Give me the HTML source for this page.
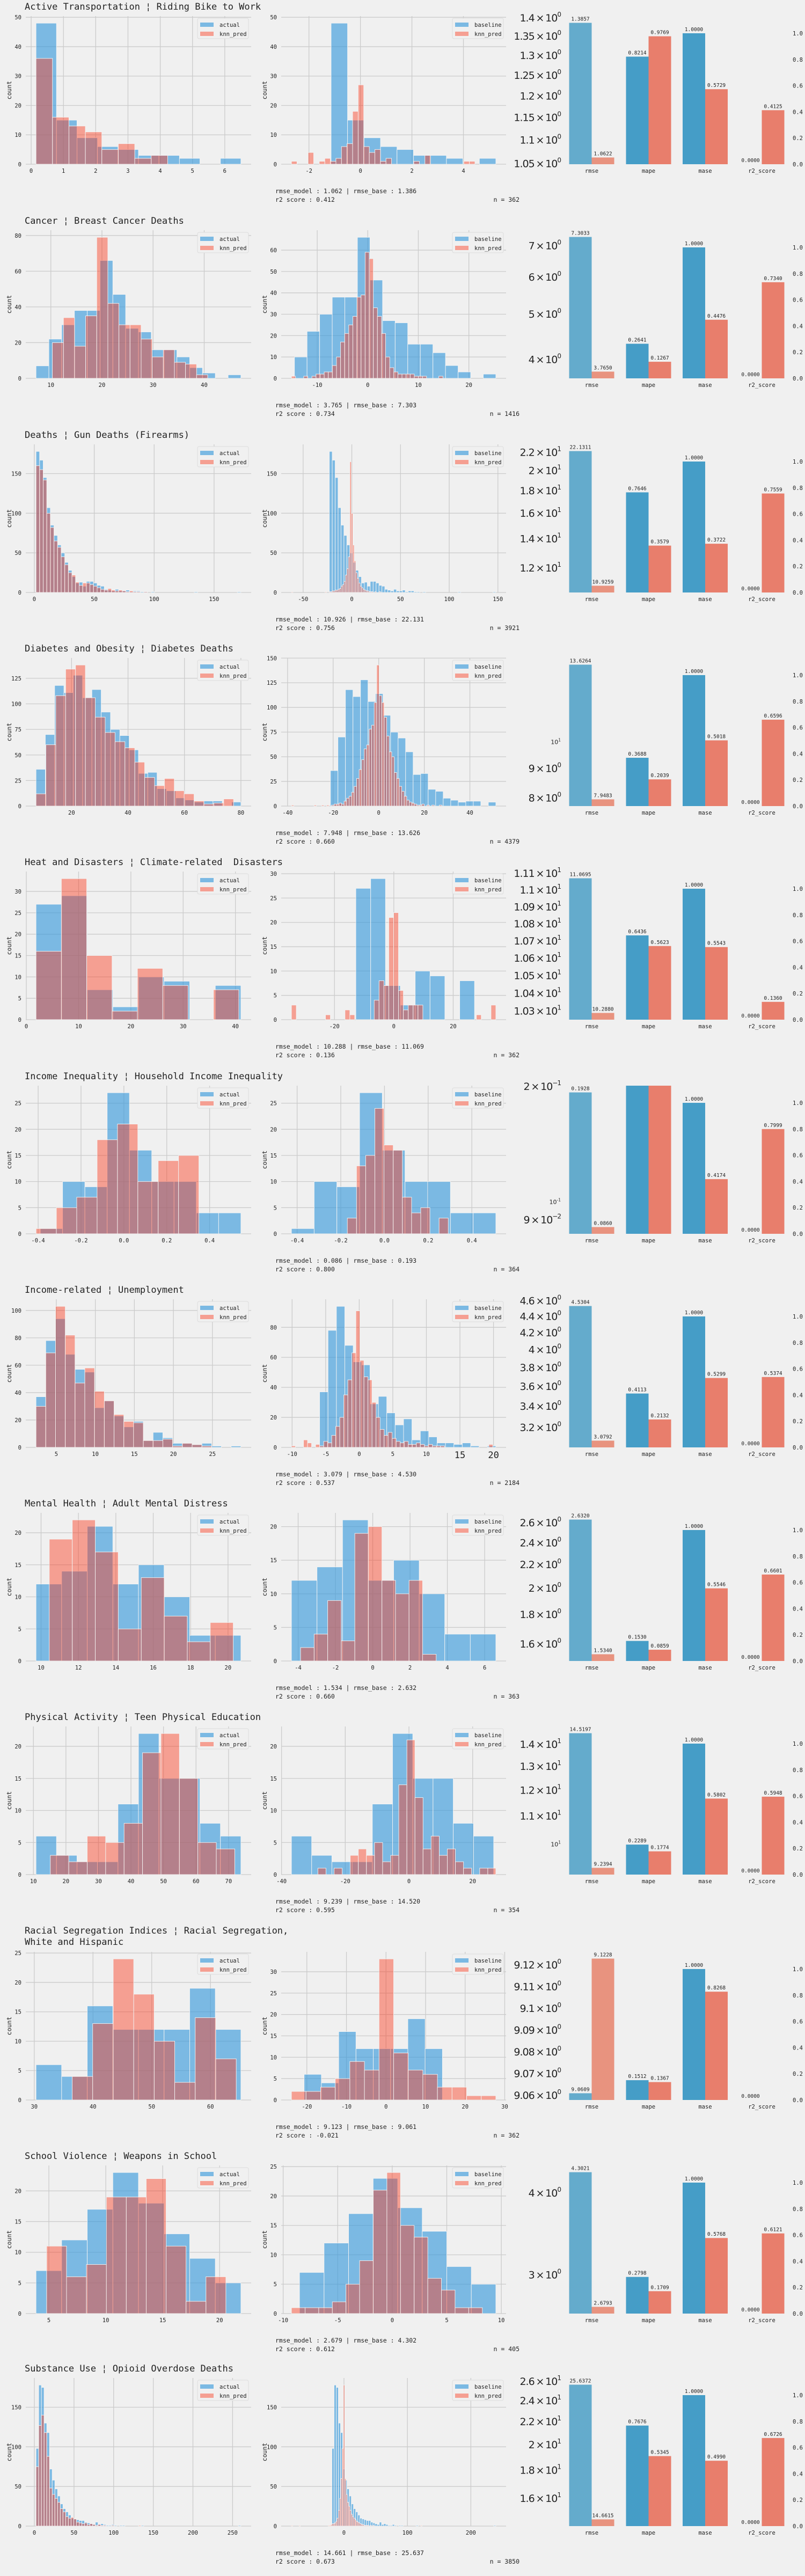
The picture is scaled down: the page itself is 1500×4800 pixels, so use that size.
<!DOCTYPE html>
<html><head><meta charset="utf-8"><title>KNN evaluation panels</title>
<style>
html,body{margin:0;padding:0;background:#f0f0f0;}
svg{display:block;}
text{fill:#222;}
</style></head>
<body>
<svg id="chart" xmlns="http://www.w3.org/2000/svg" width="1500" height="4800" viewBox="0 0 1500 4800">
<rect x="0" y="0" width="1500" height="4800" fill="#f0f0f0"/>
</svg>
<script>
// ---------------- DATA ----------------
const titles = [
 ["Active Transportation ¦ Riding Bike to Work"],
 ["Cancer ¦ Breast Cancer Deaths"],
 ["Deaths ¦ Gun Deaths (Firearms)"],
 ["Diabetes and Obesity ¦ Diabetes Deaths"],
 ["Heat and Disasters ¦ Climate-related \u00a0Disasters"],
 ["Income Inequality ¦ Household Income Inequality"],
 ["Income-related ¦ Unemployment"],
 ["Mental Health ¦ Adult Mental Distress"],
 ["Physical Activity ¦ Teen Physical Education"],
 ["Racial Segregation Indices ¦ Racial Segregation,","White and Hispanic"],
 ["School Violence ¦ Weapons in School"],
 ["Substance Use ¦ Opioid Overdose Deaths"]
];
const actualStart = [0.15,7.1,1.4,7.4,1.85,-0.39,2.4,9.73,10.8,30.3,3.87,2.1];
const actualWidth = [0.635,2.505,3,3.3,4.9,0.104,1.25,1.37,6.3,4.36,2.25,3.4];
const actualCounts = [
 [48,15,9,6,5,3,3,2,0,2],
 [7,22,30,38,38,66,47,28,26,16,16,12,6,3,0,2],
 [178,167,145,107,85,72,60,50,38,28,20,12,13,8,14,14,12,9,8,4,3,2,4,2,2,3,1,2,2,1,1,0,1,0,0,0,0,0,0,0,0,0,0,0,1,0,0,0,0,0,0,0,0,0,0,0,1],
 [36,70,118,111,128,106,114,92,75,69,55,32,33,17,15,8,6,4,5,5,0,4],
 [27,29,7,3,10,9,0,8],
 [1,10,9,27,16,10,10,4,4],
 [37,78,94,68,57,55,29,34,23,15,19,5,11,7,3,3,2,3,1,0,1],
 [12,14,21,12,15,10,4,4],
 [6,3,2,2,11,22,15,15,8,6],
 [6,4,16,12,12,12,19,12],
 [7,12,17,23,18,13,9,5],
 [98,178,175,130,118,72,58,47,38,28,22,18,14,10,9,8,7,7,5,4,3,2,5,2,3,2,1,1,2,1,0,1,1,0,0,0,0,0,0,1,0,0,0,0,0,0,0,0,0,0,0,0,0,0,0,0,0,0,0,0,0,0,0,0,0,0,0,0,0,0,0,0,0,0,0,1]
];
const predStart = [0.15,10.3,1.4,7.4,1.85,-0.41,2.4,10.44,15.2,36.46,4.8,2.1];
const predWidth = [0.51,2.17,3,3.5,4.85,0.095,1.25,1.23,5.67,3.49,1.75,3.4];
const predCounts = [
 [36,16,13,11,5,7,2,3],
 [20,34,18,35,79,42,30,30,22,12,16,9,8,2],
 [160,155,142,100,82,65,57,45,35,25,22,13,9,12,12,10,8,6,4,3,5,3,2,3,2,1,2,1,1,0,1],
 [12,60,108,134,138,106,87,72,63,57,43,28,20,27,15,12,5,2,3,7],
 [16,33,15,2,12,8,0,7],
 [1,5,7,18,21,10,14,15],
 [30,69,103,82,47,58,41,34,24,19,18,5,5,6,1,3,2,1],
 [19,22,17,5,13,7,3,6],
 [3,2,6,5,8,19,22,15,5,4],
 [4,13,24,18,10,3,14,7],
 [11,6,8,19,19,22,11,2,6],
 [75,127,140,118,88,48,40,35,30,22,18,12,10,11,9,5,4,3,4,2,3,2,1,2,1,1,0,0,1,0,0,0,0,0,0,0,0,0,1]
];
const baselineStart = [-1.14,-14.5,-23.1,-21.2,-12.8,-0.426,-5.9,-4.36,-36.9,-20.7,-8.5,-19];
const baselineWidth = [0.64,2.49,3,3.3,5.0,0.104,1.25,1.37,6.35,4.37,2.25,3.4];
const baselineCounts = [
 [48,15,9,6,5,3,3,2,0,2],
 [10,22,30,38,38,66,46,27,26,16,16,12,6,3,0,2],
 [178,167,145,107,85,72,60,50,38,28,20,12,13,8,14,14,12,9,8,4,3,2,4,2,2,3,1,2,2,1,1,0,1,0,0,0,0,0,0,0,0,0,0,0,1,0,0,0,0,0,0,0,0,0,0,0,1],
 [36,70,118,111,128,106,114,92,75,69,55,32,33,17,15,8,6,4,5,5,0,4],
 [27,29,7,3,10,9,0,8],
 [1,10,9,27,16,10,10,4,4],
 [37,78,94,68,57,55,29,34,23,15,19,5,11,7,3,3,2,3,1,0,1],
 [12,14,21,12,15,10,4,4],
 [6,3,2,2,11,22,15,15,8,6],
 [6,4,16,12,12,12,19,12],
 [7,12,17,23,18,14,8,5],
 [98,178,175,130,118,72,58,47,38,28,22,18,14,10,9,8,7,7,5,4,3,2,5,2,3,2,1,1,2,1,0,1,1,0,0,0,0,0,0,1,0,0,0,0,0,0,0,0,0,0,0,0,0,0,0,0,0,0,0,0,0,0,0,0,0,0,0,0,0,0,0,0,0,0,0,1]
];
const residStart = [-2.68,-15.1,-62,-38.3,-34.5,-0.17,-10.1,-3.87,-28.6,-23.9,-9.24,-82.8];
const residWidth = [0.216,0.81,1.5,1.1,1.64,0.042,0.6,0.727,2.54,3.69,1.25,2];
const residCounts = [
 [1,0,0,4,0,1,2,1,2,6,7,18,27,6,4,5,1,2,0,0,0,0,1,0,3,0,0,0,0,0,0,1,1],
 [1,0,0,1,0,1,2,2,3,3,6,10,17,21,25,29,38,39,59,56,33,29,21,10,5,3,2,2,2,2,1,1,1,0,0,0,1],
 [1,0,0,0,0,0,0,0,0,0,0,0,0,0,0,0,0,0,0,0,0,0,0,1,0,0,1,1,2,2,3,3,4,5,8,10,14,22,30,45,165,100,60,40,25,18,12,8,6,4,3,2,2,1,1,1,0,1,0,0,1],
 [1,0,0,0,0,0,0,0,0,1,0,0,1,0,1,0,1,2,2,3,2,5,8,10,14,20,28,37,47,58,62,78,82,105,143,112,105,90,71,55,50,34,28,20,15,10,6,4,3,2,1,1,2,0,1,0,1,0,0,1],
 [3,0,0,0,0,0,0,1,0,0,0,2,1,0,0,0,0,4,8,7,21,22,6,2,3,3,3,0,0,0,0,0,0,0,0,0,0,0,1,0,0,3],
 [3,13,15,24,17,16,7,4,5,0,3],
 [1,0,0,5,3,0,2,1,4,3,8,14,20,35,45,63,91,58,47,45,30,20,12,8,10,6,4,3,4,2,2,3,2,1,2,1,1,1,0,0,0,0,0,0,0,0,0,0,0,2],
 [2,4,9,3,19,20,12,10,12,1],
 [1,0,1,0,3,4,3,5,2,3,14,21,12,4,6,3,4,2,1,0,1,1],
 [2,2,3,5,9,7,33,11,7,6,3,3,1,1],
 [1,1,1,2,5,9,21,24,15,13,6,4,1,1],
 [1,0,0,0,0,0,1,0,0,0,0,0,0,0,0,0,0,0,0,0,0,0,0,0,0,0,0,0,0,1,1,2,3,3,4,6,10,20,35,60,98,178,60,40,30,25,20,15,12,10,8,6,5,4,3,2,2,1,1,1,1,0,1,0,1,0,0,0,0,0,0,0,0,0,0,0,0,0,0,0,0,0,0,0,0,0,0,0,0,0,0,0,0,0,0,0,0,0,0,0,0,0,1]
];
const leftXTicks = [[0,1,2,3,4,5,6],[10,20,30,40],[0,50,100,150],[20,40,60,80],[0,10,20,30,40],[-0.4,-0.2,0,0.2,0.4],[5,10,15,20,25],[10,12,14,16,18,20],[10,20,30,40,50,60,70],[30,40,50,60],[5,10,15,20],[0,50,100,150,200,250]];
const midXTicks = [[-2,0,2,4],[-10,0,10,20],[-50,0,50,100,150],[-40,-20,0,20,40],[-20,0,20],[-0.4,-0.2,0,0.2,0.4],[-10,-5,0,5,10,15,20],[-4,-2,0,2,4,6],[-40,-20,0,20],[-20,-10,0,10,20,30],[-10,-5,0,5,10],[0,100,200]];
const leftYStep = [10,20,50,25,5,5,20,5,5,5,5,50];
const midYStep = [10,10,50,25,5,5,20,5,5,5,5,50];
const rmseBase = [1.3857,7.3033,22.1311,13.6264,11.0695,0.1928,4.5304,2.6320,14.5197,9.0609,4.3021,25.6372];
const rmseModel = [1.0622,3.7650,10.9259,7.9483,10.2880,0.0860,3.0792,1.5340,9.2394,9.1228,2.6793,14.6615];
const mapeBase = [0.8214,0.2641,0.7646,0.3688,0.6436,2.0,0.4113,0.1530,0.2289,0.1512,0.2798,0.7676];
const mapeModel = [0.9769,0.1267,0.3579,0.2039,0.5623,2.0,0.2132,0.0859,0.1774,0.1367,0.1709,0.5345];
const maseBase = [1,1,1,1,1,1,1,1,1,1,1,1];
const maseModel = [0.5729,0.4476,0.3722,0.5018,0.5543,0.4174,0.5299,0.5546,0.5802,0.8268,0.5768,0.4990];
const r2Base = [0,0,0,0,0,0,0,0,0,0,0,0];
const r2Model = [0.4125,0.7340,0.7559,0.6596,0.1360,0.7999,0.5374,0.6601,0.5948,-0.0210,0.6121,0.6726];
const logTicks = [
 [1.05,1.1,1.15,1.2,1.25,1.3,1.35,1.4],
 [4,5,6,7],
 [12,14,16,18,20,22],
 [8,9,10],
 [10.3,10.4,10.5,10.6,10.7,10.8,10.9,11.0,11.1],
 [0.09,0.1,0.2],
 [3.2,3.4,3.6,3.8,4.0,4.2,4.4,4.6],
 [1.6,1.8,2.0,2.2,2.4,2.6],
 [10,11,12,13,14],
 [9.06,9.07,9.08,9.09,9.10,9.11,9.12],
 [3,4],
 [16,18,20,22,24,26]
];
const statsModel = ["1.062","3.765","10.926","7.948","10.288","0.086","3.079","1.534","9.239","9.123","2.679","14.661"];
const statsBase = ["1.386","7.303","22.131","13.626","11.069","0.193","4.530","2.632","14.520","9.061","4.302","25.637"];
const statsR2 = ["0.412","0.734","0.756","0.660","0.136","0.800","0.537","0.660","0.595","-0.021","0.612","0.673"];
const statsN = ["362","1416","3921","4379","362","364","2184","363","354","362","405","3850"];
const metricNames = ["rmse","mape","mase","r2_score"];

// ---------------- LAYOUT ----------------
const NS = "http://www.w3.org/2000/svg";
const svg = document.getElementById("chart");
const rowBottom = [306,705,1104,1502,1900,2299,2697,3095,3493,3913,4311,4707];
const AX_H = 276;
const MONO = "'DejaVu Sans Mono','Liberation Mono',monospace";
const SANS = "'DejaVu Sans','Liberation Sans',sans-serif";
const BLUE = "rgba(52,152,219,0.62)";
const RED = "rgba(250,60,30,0.45)";
const GRID = "#cbcbcb";

function mk(tag, parent){ const e=document.createElementNS(NS,tag); parent.appendChild(e); return e; }
function txt(parent,x,y,s,size,anchor,fam){
  const t=mk("text",parent);
  t.setAttribute("x",x); t.setAttribute("y",y);
  t.setAttribute("font-size",size);
  t.setAttribute("font-family",fam||MONO);
  t.setAttribute("text-anchor",anchor||"start");
  t.textContent=s;
  return t;
}
function line(parent,x1,y1,x2,y2,col,w){
  const l=mk("line",parent);
  l.setAttribute("x1",x1);l.setAttribute("y1",y1);l.setAttribute("x2",x2);l.setAttribute("y2",y2);
  l.setAttribute("stroke",col);l.setAttribute("stroke-width",w);
  return l;
}

function drawHist(g, x0, x1, yb, series, xticks, ystep, legendLabels, panelName, bigTicks){
  let lo=Infinity, hi=-Infinity, cmax=0;
  series.forEach(s=>{ lo=Math.min(lo,s.start); hi=Math.max(hi,s.start+s.width*s.counts.length); s.counts.forEach(c=>cmax=Math.max(cmax,c)); });
  const r=hi-lo, alo=lo-0.05*r, ahi=hi+0.05*r;
  const X=v=> x0+(v-alo)/(ahi-alo)*(x1-x0);
  const ymax=cmax*1.05;
  const Y=c=> yb - c/ymax*AX_H;
  const gg=mk("g",g);
  
  
  for(let k=0;k*ystep<=ymax;k++){
    const l=line(gg,x0,Y(k*ystep),x1,Y(k*ystep),GRID,1.3);
    
    
    const t=txt(g,x0-8,Y(k*ystep)+4,String(k*ystep),10.5,"end");
    t.setAttribute("fill","#333");
    
    
  }
  const fixed = xticks.some(v=>!Number.isInteger(v));
  xticks.forEach(v=>{
    const x=X(v);
    if(x<x0-1||x>x1+1) return;
    const l=line(gg,x,yb,x,yb-AX_H,GRID,1.3);
    
    
    const big = bigTicks && bigTicks.indexOf(v)>=0;
    const lab = fixed ? v.toFixed(1) : String(v);
    const t=txt(g,x,yb+(big?20:16),lab,big?17:10.5,"middle");
    t.setAttribute("fill","#333");
    
    
  });
  series.forEach(s=>{
    const sg=mk("g",g);
    
    
    s.counts.forEach((c,i)=>{
      if(c<=0) return;
      const a=X(s.start+i*s.width), b=X(s.start+(i+1)*s.width);
      const rc=mk("rect",sg);
      rc.setAttribute("x",a); rc.setAttribute("y",Y(c));
      rc.setAttribute("width",Math.max(0.5,b-a)); rc.setAttribute("height",yb-Y(c));
      rc.setAttribute("fill",s.color);
      rc.setAttribute("stroke","#f4f4f4"); rc.setAttribute("stroke-width",0.9);
      
      
    });
  });
  const lg=mk("g",g);
  
  
  const lx=x1-100, ly=yb-AX_H+4;
  const box=mk("rect",lg);
  box.setAttribute("x",lx);box.setAttribute("y",ly);box.setAttribute("width",95);box.setAttribute("height",38);
  box.setAttribute("rx",3);box.setAttribute("fill","#f0f0f0");box.setAttribute("stroke","#dcdcdc");
  
  
  [[legendLabels[0],BLUE],[legendLabels[1],RED]].forEach((e,i)=>{
    const p=mk("rect",lg);
    p.setAttribute("x",lx+5);p.setAttribute("y",ly+8+i*17);p.setAttribute("width",25);p.setAttribute("height",8);
    p.setAttribute("fill",e[1]);
    
    
    const t=txt(lg,lx+41,ly+16+i*17,e[0],10.5,"start");
    
    
  });
  const yl=txt(g,0,0,"count",11.5,"middle");
  yl.setAttribute("transform","translate("+(x0===48?21:497)+","+(yb-AX_H/2)+") rotate(-90)");
  
  
}

function drawBars(g, i, yb){
  const centers=[1102.5,1208.5,1314,1419.5];
  const HW=42;
  const top=yb-AX_H;
  const lmin=Math.log10(Math.min(rmseBase[i],rmseModel[i])), lmax=Math.log10(Math.max(rmseBase[i],rmseModel[i]));
  const lr=lmax-lmin, llo=lmin-0.05*lr, lhi=lmax+0.05*lr;
  const YL=v=> yb-(Math.log10(v)-llo)/(lhi-llo)*AX_H;
  const RMAX=1.131;
  const YR=v=> yb - Math.min(v,RMAX)/RMAX*AX_H;
  logTicks[i].forEach(v=>{
    const y=YL(v);
    if(y<top-6||y>yb+6) return;
    const e=Math.floor(Math.log10(v)+1e-9);
    const m=parseFloat((v/Math.pow(10,e)).toFixed(3));
    const t=mk("text",g);
    t.setAttribute("font-family",SANS);
    t.setAttribute("text-anchor","end");
    t.setAttribute("x",1045);
    
    
    if(Math.abs(m-1)<1e-9){
      t.setAttribute("y",y+4);
      t.setAttribute("font-size",11);
      t.textContent="10";
      const s=mk("tspan",t); s.setAttribute("dy",-5); s.setAttribute("font-size",7.5); s.textContent=String(e);
    } else {
      t.setAttribute("y",y+7);
      t.setAttribute("font-size",19);
      t.setAttribute("letter-spacing","-1");
      t.textContent=m+"\u2009\u00d7\u200910";
      const s=mk("tspan",t); s.setAttribute("dy",-9); s.setAttribute("font-size",12); s.textContent=String(e).replace("-","\u2212");
    }
  });
  for(let k=0;k<=5;k++){
    const v=k*0.2;
    const t=txt(g,1477,YR(v)+4,v.toFixed(1),10.5,"start");
    t.setAttribute("fill","#333");
    
    
  }
  const groups=[
    [rmseBase[i],rmseModel[i],"#64abcc","#e8937f",YL],
    [mapeBase[i],mapeModel[i],"#459dc7","#e87e6c",YR],
    [maseBase[i],maseModel[i],"#459dc7","#e87e6c",YR],
    [r2Base[i],r2Model[i],"#459dc7","#e87e6c",YR]
  ];
  groups.forEach((gr,j)=>{
    const c=centers[j];
    [0,1].forEach(side=>{
      const v=gr[side], F=gr[4];
      const x=side===0?c-HW:c;
      if(v<0) return;
      const yv=F(v);
      if(v>0){
        const rc=mk("rect",g);
        rc.setAttribute("x",x);rc.setAttribute("y",yv);rc.setAttribute("width",HW);rc.setAttribute("height",Math.max(0,yb-yv));
        rc.setAttribute("fill",gr[2+side]);
        
        
      }
      if(v<=RMAX || j===0){
        const t=txt(g,x+HW/2,(v>0?yv:yb)-4,v.toFixed(4),9.5,"middle");
        
        
      }
    });
    const cl=txt(g,c,yb+16,metricNames[j],10.5,"middle");
    cl.setAttribute("fill","#333");
    
    
  });
}

for(let i=0;i<12;i++){
  const yb=rowBottom[i];
  const row=mk("g",svg);
  
  
  const tl=titles[i];
  tl.forEach((s,k)=>{
    const y = tl.length>1 ? yb-310+k*21 : yb-288;
    const t=txt(row,46,y,s,17,"start");
    
    
  });
  const left=mk("g",row);
  
  
  drawHist(left,48,468,yb,[
    {name:"actual",start:actualStart[i],width:actualWidth[i],counts:actualCounts[i],color:BLUE},
    {name:"knn_pred",start:predStart[i],width:predWidth[i],counts:predCounts[i],color:RED}
  ],leftXTicks[i],leftYStep[i],["actual","knn_pred"],"left-hist",null);
  const mid=mk("g",row);
  
  
  drawHist(mid,524,943,yb,[
    {name:"baseline",start:baselineStart[i],width:baselineWidth[i],counts:baselineCounts[i],color:BLUE},
    {name:"knn_pred",start:residStart[i],width:residWidth[i],counts:residCounts[i],color:RED}
  ],midXTicks[i],midYStep[i],["baseline","knn_pred"],"mid-hist",i===6?[15,20]:null);
  const s1=txt(row,513,yb+54,"rmse_model : "+statsModel[i]+" | rmse_base : "+statsBase[i],11.5,"start");
  
  
  const s2=txt(row,513,yb+70,"r2 score : "+statsR2[i],11.5,"start");
  
  
  const s3=txt(row,968,yb+70,"n = "+statsN[i],11.5,"end");
  
  
  const bars=mk("g",row);
  
  
  drawBars(bars,i,yb);
}
</script>
</body></html>
